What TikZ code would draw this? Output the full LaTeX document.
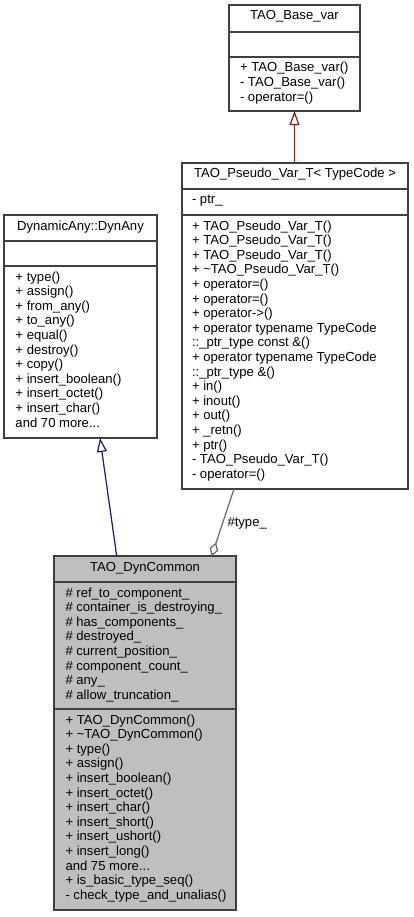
\documentclass[tikz,border=0pt]{standalone}
\usepackage{fontspec}
\setmainfont{Liberation Sans}
\usetikzlibrary{arrows.meta}
\definecolor{firebrick}{HTML}{8B1A1A}
\definecolor{midblue}{HTML}{191970}
\definecolor{greyforty}{HTML}{666666}
\definecolor{greyfill}{HTML}{BFBFBF}
\definecolor{bordercol}{HTML}{404040}
\begin{document}
\begin{tikzpicture}[x=1pt,y=-1pt,
  classbox/.style={draw=bordercol, line width=1.2pt, anchor=north west, inner sep=0pt, outer sep=0pt, fill=white},
  sepline/.style={draw=bordercol, line width=1.2pt},
  txt/.style={inner sep=0pt, outer sep=0pt, font=\fontsize{13.1}{14.6}\selectfont},
  titletxt/.style={txt, anchor=base},
  fieldtxt/.style={txt, anchor=base west},
  inherit/.style={line width=1.2pt, -{Triangle[open, length=14pt, width=10pt]}},
  aggr/.style={line width=1.2pt, draw=greyforty, -{Diamond[open, length=14pt, width=9pt]}}
]
\useasboundingbox (0,0) rectangle (413,917);
\fill[white] (0,0) rectangle (413,917);

% ---------- TAO_Base_var ----------
\node[classbox, minimum width=131pt, minimum height=106pt] (basevar) at (229,5) {};
\draw[sepline] (229,32) -- (360,32);
\draw[sepline] (229,57) -- (360,57);
\node[titletxt] (basevartitle) at (294.5,20) {TAO\_Base\_var};
\node[fieldtxt] (basevarops) at (240,72) {\begin{tabular}[t]{@{}l@{}}
+ TAO\_Base\_var()\\
- TAO\_Base\_var()\\
- operator=()
\end{tabular}};

% ---------- TAO_Pseudo_Var_T ----------
\node[classbox, minimum width=226pt, minimum height=326pt] (pseudo) at (182,163) {};
\draw[sepline] (182,189) -- (408,189);
\draw[sepline] (182,215) -- (408,215);
\node[titletxt] (pseudotitle) at (295,178) {TAO\_Pseudo\_Var\_T< TypeCode >};
\node[fieldtxt] (pseudoattr) at (192,204) {- ptr\_};
\node[fieldtxt] (pseudoops) at (192,230) {\begin{tabular}[t]{@{}l@{}}
+ TAO\_Pseudo\_Var\_T()\\
+ TAO\_Pseudo\_Var\_T()\\
+ TAO\_Pseudo\_Var\_T()\\
+ \textasciitilde{}TAO\_Pseudo\_Var\_T()\\
+ operator=()\\
+ operator=()\\
+ operator->()\\
+ operator typename TypeCode\\
::\_ptr\_type const \&()\\
+ operator typename TypeCode\\
::\_ptr\_type \&()\\
+ in()\\
+ inout()\\
+ out()\\
+ \_retn()\\
+ ptr()\\
- TAO\_Pseudo\_Var\_T()\\
- operator=()
\end{tabular}};

% ---------- DynamicAny::DynAny ----------
\node[classbox, minimum width=153pt, minimum height=223pt] (dynany) at (4,215) {};
\draw[sepline] (4,241) -- (157,241);
\draw[sepline] (4,266) -- (157,266);
\node[titletxt] (dynanytitle) at (80.5,230) {DynamicAny::DynAny};
\node[fieldtxt] (dynanyops) at (15.5,281) {\begin{tabular}[t]{@{}l@{}}
+ type()\\
+ assign()\\
+ from\_any()\\
+ to\_any()\\
+ equal()\\
+ destroy()\\
+ copy()\\
+ insert\_boolean()\\
+ insert\_octet()\\
+ insert\_char()\\
and 70 more...
\end{tabular}};

% ---------- TAO_DynCommon ----------
\node[classbox, fill=greyfill, minimum width=182pt, minimum height=354pt] (dyncommon) at (54,556) {};
\draw[sepline] (54,582) -- (236,582);
\draw[sepline] (54,709) -- (236,709);
\node[titletxt] (dyncommontitle) at (145,571) {TAO\_DynCommon};
\node[fieldtxt] (dyncommonattr) at (65.5,597) {\begin{tabular}[t]{@{}l@{}}
\# ref\_to\_component\_\\
\# container\_is\_destroying\_\\
\# has\_components\_\\
\# destroyed\_\\
\# current\_position\_\\
\# component\_count\_\\
\# any\_\\
\# allow\_truncation\_
\end{tabular}};
\node[fieldtxt] (dyncommonops) at (65.5,724) {\begin{tabular}[t]{@{}l@{}}
+ TAO\_DynCommon()\\
+ \textasciitilde{}TAO\_DynCommon()\\
+ type()\\
+ assign()\\
+ insert\_boolean()\\
+ insert\_octet()\\
+ insert\_char()\\
+ insert\_short()\\
+ insert\_ushort()\\
+ insert\_long()\\
and 75 more...\\
+ is\_basic\_type\_seq()\\
- check\_type\_and\_unalias()
\end{tabular}};

% ---------- connectors ----------
\draw[inherit, firebrick] (basevar.south |- pseudo.north) -- (basevar.south);
\draw[inherit, midblue] ([xshift=62.7pt]dyncommon.north west) -- ([xshift=96pt]dynany.south west);
\draw[aggr] ([xshift=52pt]pseudo.south west) -- ([xshift=157.7pt]dyncommon.north west);
\node[fieldtxt] (typelbl) at (227.5,526.5) {\#type\_};
\end{tikzpicture}
\end{document}
